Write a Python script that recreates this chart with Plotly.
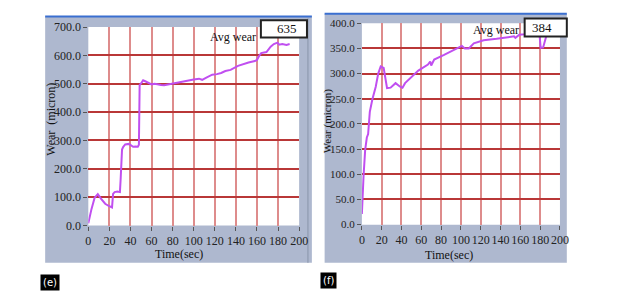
import plotly.graph_objects as go

# ---- data (e) ----
time_e = [0, 1, 3, 6, 9, 12, 16, 19, 21.5, 22.5, 23.5, 25, 27.6, 30, 30.7, 31.3, 32, 33, 35, 38.5, 41, 42.5,
          45, 47, 48, 48.7, 50, 52, 54.5, 57, 60, 63, 66, 69, 72, 76, 80, 85, 90, 92.6, 96, 100, 105, 108,
          112, 117.5, 122, 126, 130, 135, 142, 147, 152, 158, 160, 162, 164, 169, 173, 176, 179.5, 181,
          184, 188, 191]
wear_e = [8, 25, 58, 98, 111, 95, 77, 70, 66, 64, 112, 118, 120, 118, 165, 250, 268, 277, 286, 288, 283, 278,
          279, 278, 285, 495, 501, 512, 508, 503, 498, 500, 497, 496, 495, 498, 501, 505, 509, 512, 514, 515,
          518, 514, 522, 532, 534, 538, 545, 549, 563, 570, 575, 580, 584, 598, 608, 612, 631, 640, 645,
          638, 640, 637, 640]

# ---- data (f) ----
time_f = [0, 0.3, 0.8, 1.7, 3.3, 5, 6.3, 8, 10.6, 14, 16.5, 19, 22, 25.4, 29, 34, 38.6, 41, 43.6, 50, 57,
          66.7, 69, 70, 73, 83, 93, 101, 104, 108, 113, 123, 136, 149, 153.6, 155, 159, 164, 170, 176, 179,
          180.5, 183, 185.5, 187, 190]
wear_f = [21, 45, 66, 97, 148, 173, 180, 224, 249, 274, 300, 314, 311, 271, 272, 281, 274, 272, 281, 293,
          306, 318, 324, 316, 328, 337, 347, 355, 350, 350, 360, 366, 369, 372, 374, 371, 377, 378, 382, 385,
          386, 351, 352, 372, 380, 386]

x_ticks = [0, 20, 40, 60, 80, 100, 120, 140, 160, 180, 200]
avg_e = "635"
avg_f = "384"

W, H = 617, 308
def px(x): return x / W
def py(y): return 1 - y / H

LINE = "#c04ff0"
PANEL = "#aeb8cf"
FONT = "Liberation Serif, Times New Roman, serif"

fig = go.Figure()
fig.add_trace(go.Scatter(x=time_e, y=wear_e, mode="lines", line=dict(color=LINE, width=2),
                         xaxis="x", yaxis="y", showlegend=False))
fig.add_trace(go.Scatter(x=time_f, y=wear_f, mode="lines", line=dict(color=LINE, width=2),
                         xaxis="x2", yaxis="y2", showlegend=False))

common_x = dict(range=[0, 200], tickvals=x_ticks, showgrid=True, gridcolor="rgb(222,140,140)", gridwidth=1.5,
                ticks="outside", ticklen=4, tickcolor="#555", zeroline=False, showline=False, tickangle=0,
                tickfont=dict(family=FONT, size=12, color="#222"), fixedrange=True)
common_y = dict(showgrid=True, gridcolor="rgb(185,55,55)", gridwidth=1.5, tickformat=".1f",
                ticks="outside", ticklen=4, tickcolor="#555", zeroline=False, showline=False,
                fixedrange=True)

fig.update_layout(
    width=W, height=H, margin=dict(l=0, r=0, t=0, b=0),
    font=dict(family=FONT, size=12, color="#222"),
    paper_bgcolor="white", plot_bgcolor="rgba(0,0,0,0)",
    xaxis=dict(domain=[px(87), px(302)], anchor="y", **common_x),
    yaxis=dict(domain=[py(229), py(21)], anchor="x", range=[0, 700], dtick=100,
               tickfont=dict(family=FONT, size=12, color="#222"), **common_y),
    xaxis2=dict(domain=[px(366), px(568)], anchor="y2", **common_x),
    yaxis2=dict(domain=[py(228), py(17)], anchor="x2", range=[0, 400], dtick=50,
                tickfont=dict(family=FONT, size=11, color="#222"), **common_y),
)

def rect(x0, x1, y0, y1, fill, layer="below", line=None):
    return dict(type="rect", xref="paper", yref="paper", x0=px(x0), x1=px(x1), y0=py(y1), y1=py(y0),
                fillcolor=fill, line=line or dict(width=0), layer=layer)

shapes = [
    # gray panels
    rect(43, 315, 10, 268, PANEL),
    rect(328, 575, 7, 268, PANEL),
    # white plot areas
    rect(87, 302, 21, 229, "white"),
    rect(366, 568, 17, 228, "white"),
    # blue top bars
    dict(type="line", xref="paper", yref="paper", x0=px(43), x1=px(315), y0=py(10), y1=py(10),
         line=dict(color="#3a6fd0", width=2), layer="below"),
    dict(type="line", xref="paper", yref="paper", x0=px(328), x1=px(575), y0=py(7), y1=py(7),
         line=dict(color="#3a6fd0", width=2), layer="below"),
    # darker right edge strip of panel (e)
    dict(type="line", xref="paper", yref="paper", x0=px(311), x1=px(311), y0=py(268), y1=py(12),
         line=dict(color="#8a94aa", width=1), layer="below"),
    # avg wear boxes
    rect(263, 310, 14, 32, "white", layer="above", line=dict(color="#222", width=2)),
    rect(532, 575, 12, 31, "white", layer="above", line=dict(color="#222", width=2)),
]
fig.update_layout(shapes=shapes)

def text(t, x, y, size=12, **kw):
    d = dict(text=t, x=px(x), y=py(y), xref="paper", yref="paper", showarrow=False,
             xanchor="center", yanchor="middle", font=dict(family=FONT, size=size, color="#111"))
    d.update(kw)
    return d

ann = [
    text(avg_e, 290, 23, 13),
    text(avg_f, 550, 21.5, 13),
    text("Avg wear", 235, 31),
    text("Avg wear", 503, 24),
    text("Time(sec)", 180, 259),
    text("Time(sec)", 455, 260),
    text("Wear  (micron)", 49, 118, textangle=-90),
    text("Wear (micron)", 331, 119, 11, textangle=-90),
    dict(text="(e)", x=px(48), y=py(288.5), xref="paper", yref="paper", showarrow=False,
         xanchor="center", yanchor="middle",
         bgcolor="black", borderpad=2, font=dict(family="DejaVu Sans", size=10, color="white")),
    dict(text="(f)", x=px(332), y=py(287), xref="paper", yref="paper", showarrow=False,
         xanchor="center", yanchor="middle",
         bgcolor="black", borderpad=2, font=dict(family="DejaVu Sans", size=10, color="white")),
]
fig.update_layout(annotations=ann)

fig.write_html("out.html")
